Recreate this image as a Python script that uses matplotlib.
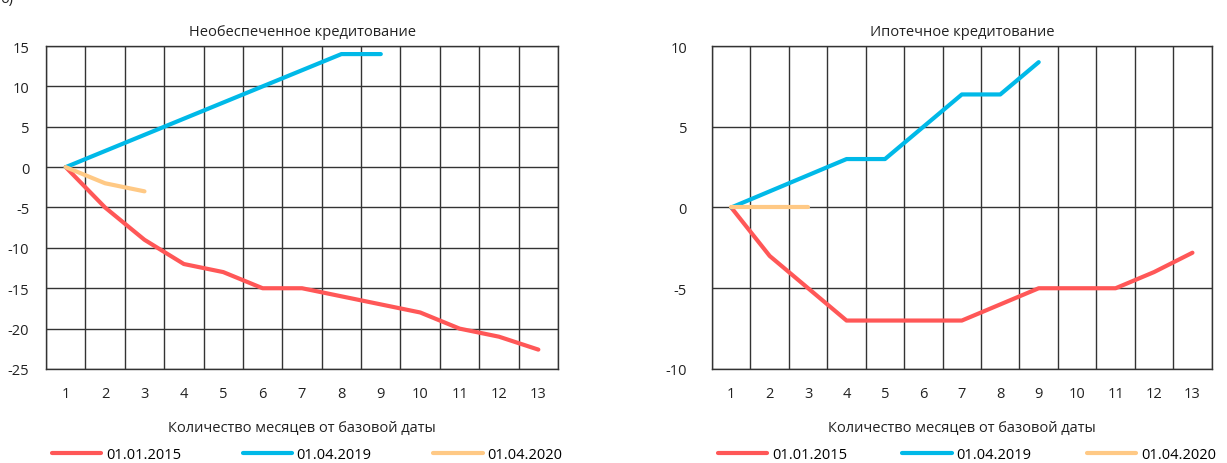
import matplotlib
matplotlib.use("Agg")
from matplotlib import pyplot as plt
from matplotlib.ticker import FixedLocator

plt.rcParams['font.family'] = ['Open Sans', 'DejaVu Sans']
plt.rcParams['axes.unicode_minus'] = False

months = list(range(1, 14))
labels = ['01.01.2015', '01.04.2019', '01.04.2020']
colors = ['#FF5757', '#00B9E8', '#FFC985']

# Необеспеченное кредитование
unsecured_2015 = [0, -5, -9, -12, -13, -15, -15, -16, -17, -18, -20, -21, -22.6]
unsecured_2019 = [0, 2, 4, 6, 8, 10, 12, 14, 14]
unsecured_2020 = [0, -2, -3]

# Ипотечное кредитование
mortgage_2015 = [0, -3, -5, -7, -7, -7, -7, -6, -5, -5, -5, -4, -2.8]
mortgage_2019 = [0, 1, 2, 3, 3, 5, 7, 7, 9]
mortgage_2020 = [0, 0, 0]

xlabel = 'Количество месяцев от базовой даты'


def draw_panel(ax, title, series, ylim, ypad):
    for vals, lab, col in zip(series, labels, colors):
        ax.plot(months[:len(vals)], vals, color=col, lw=3, label=lab,
                solid_capstyle='round', solid_joinstyle='round')
    ax.set_xlim(0.5, 13.5)
    ax.set_ylim(*ylim)
    ax.set_xticks(months)
    ax.xaxis.set_minor_locator(FixedLocator([m + 0.5 for m in range(0, 14)]))
    ax.set_yticks(range(ylim[0], ylim[1] + 1, 5))
    ax.grid(which='minor', axis='x', color='#333333', lw=1)
    ax.grid(which='major', axis='y', color='#333333', lw=1)
    ax.tick_params(which='both', length=0, labelsize=10.5, colors='#222222')
    ax.tick_params(axis='x', pad=12)
    ax.tick_params(axis='y', pad=ypad)
    for s in ax.spines.values():
        s.set_color('#333333')
        s.set_linewidth(1)
    ax.set_title(title, fontsize=10.5, color='#222222', pad=8)
    ax.set_xlabel(xlabel, fontsize=10.5, color='#222222', labelpad=14)
    ax.legend(loc='center left', bbox_to_anchor=(0.0, -0.266, 1.02, 0),
              mode='expand', ncol=3, frameon=False, fontsize=10.5,
              handlelength=3.4, handletextpad=0.3, borderaxespad=0)


fig = plt.figure(figsize=(12.27, 4.64), dpi=100)
ax1 = fig.add_axes([0.0375, 0.2026, 0.4173, 0.6961])
ax2 = fig.add_axes([0.5803, 0.2026, 0.4072, 0.6961])

draw_panel(ax1, 'Необеспеченное кредитование',
           [unsecured_2015, unsecured_2019, unsecured_2020], (-25, 15), 12)
draw_panel(ax2, 'Ипотечное кредитование',
           [mortgage_2015, mortgage_2019, mortgage_2020], (-10, 10), 18)

fig.text(0.0, 1.0, 'б)', fontsize=10.5, color='#222222', va='center', ha='left')

fig.savefig('out.png', dpi=100)
